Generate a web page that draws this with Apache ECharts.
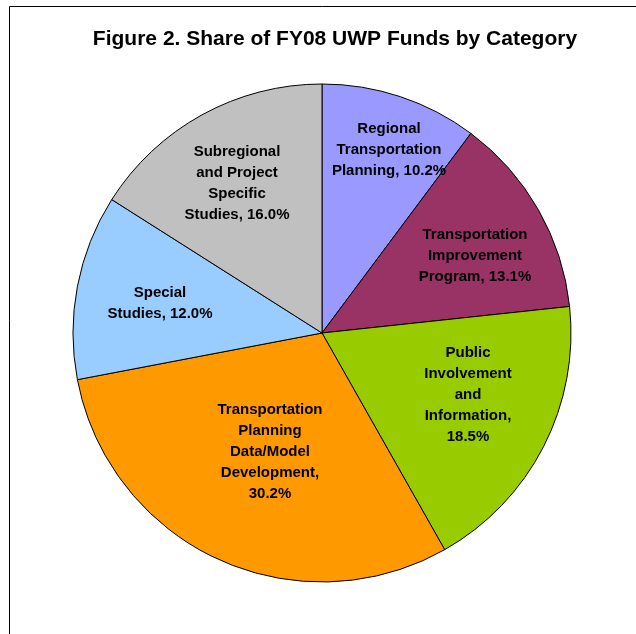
<!DOCTYPE html>
<html>
<head>
<meta charset="utf-8">
<script src="https://cdn.jsdelivr.net/npm/echarts@6/dist/echarts.min.js"></script>
<style>
  html, body { margin: 0; padding: 0; background: #fff; }
  #chart { width: 636px; height: 634px; }
</style>
</head>
<body>
<div id="chart"></div>
<script>
// slices, clockwise from 12 o'clock
const categories = [
  'Regional\nTransportation\nPlanning',
  'Transportation\nImprovement\nProgram',
  'Public\nInvolvement\nand\nInformation,\n',
  'Transportation\nPlanning\nData/Model\nDevelopment,\n',
  'Special\nStudies',
  'Subregional\nand Project\nSpecific\nStudies'
]
const shares = [10.2, 13.1, 18.5, 30.2, 12.0, 16.0]
const colors = ['#9999FF', '#993366', '#99CC00', '#FF9900', '#99CCFF', '#C0C0C0']

// where Excel put each label (px)
const labelPos = [[389, 150], [475, 256], [468, 395], [270, 452], [160, 303], [237, 183]]

const chart = echarts.init(document.getElementById('chart'))

chart.setOption({
  animation: false,
  title: {
    text: 'Figure 2. Share of FY08 UWP Funds by Category',
    left: 330,
    top: 24,
    textAlign: 'center',
    textStyle: {
      fontFamily: 'Liberation Sans, Arial, sans-serif',
      fontSize: 21,
      fontWeight: 'bold',
      color: '#000'
    }
  },
  graphic: [
    { type: 'line', shape: { x1: 9.5, y1: 6.5, x2: 636, y2: 6.5 }, style: { stroke: '#000', lineWidth: 1 } },
    { type: 'line', shape: { x1: 9.5, y1: 6.5, x2: 9.5, y2: 634 }, style: { stroke: '#000', lineWidth: 1 } }
  ],
  series: [{
    type: 'pie',
    center: [322, 333],
    radius: 249,
    startAngle: 90,
    clockwise: true,
    avoidLabelOverlap: false,
    itemStyle: { borderColor: '#000', borderWidth: 1 },
    emphasis: { disabled: true },
    label: {
      show: true,
      position: 'inside',
      fontFamily: 'Liberation Sans, Arial, sans-serif',
      fontSize: 15,
      fontWeight: 'bold',
      color: '#000',
      lineHeight: 21,
      align: 'center',
      formatter: (p) => {
        const name = p.name
        const v = p.value.toFixed(1) + '%'
        return name.endsWith('\n') ? name + v : name + ', ' + v
      }
    },
    labelLayout: (p) => ({ x: labelPos[p.dataIndex][0], y: labelPos[p.dataIndex][1] }),
    data: categories.map((c, i) => ({
      name: c,
      value: shares[i],
      itemStyle: { color: colors[i] }
    }))
  }]
})
</script>
</body>
</html>
